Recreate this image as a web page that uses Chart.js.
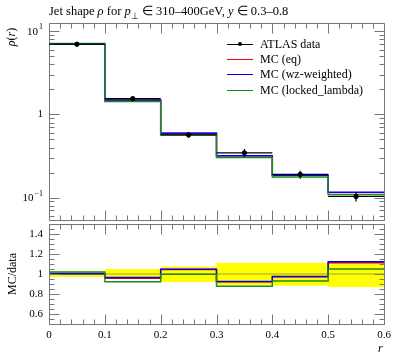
<!DOCTYPE html>
<html>
<head>
<meta charset="utf-8">
<script src="https://cdn.jsdelivr.net/npm/chart.js@4.4.0/dist/chart.umd.min.js"></script>
<style>
  body { margin: 0; background: #fff; }
  #wrap { position: relative; width: 397px; height: 358px; font-family: "Liberation Serif", serif; color: #000; }
  canvas { position: absolute; left: 0; }
  #mainChart { top: 0; }
  #ratioChart { top: 200px; }
  .txt { position: absolute; white-space: nowrap; font-size: 12px; line-height: 14px; }
  .rot { transform: translate(-50%, -50%) rotate(-90deg); }
  .leg { position: absolute; left: 227px; width: 160px; height: 14px; font-size: 12px; line-height: 14px; }
  .leg .ln { position: absolute; left: 0; top: 7px; width: 26px; height: 0; border-top: 1.2px solid #000; }
  .leg .dot { position: absolute; left: 11px; top: 5px; width: 4px; height: 4px; border-radius: 50%; background: #000; }
  .leg span { position: absolute; left: 33px; top: 0; }
</style>
</head>
<body>
<div id="wrap">
  <canvas id="mainChart" width="397" height="225"></canvas>
  <canvas id="ratioChart" width="397" height="158"></canvas>

  <div class="txt" style="left:49px; top:4px; font-size:12.5px;">Jet shape <i>ρ</i> for <i>p</i><sub style="font-size:9px">⊥</sub> ∈ 310–400GeV, <i>y</i> ∈ 0.3–0.8</div>
  <div class="txt rot" style="left:11px; top:37px;"><i>ρ</i>(<i>r</i>)</div>
  <div class="txt rot" style="left:12px; top:274px;">MC/data</div>
  <div class="txt" style="left:378px; top:341px;"><i>r</i></div>

  <div class="leg" style="top:37px;"><div class="ln"></div><div class="dot"></div><span>ATLAS data</span></div>
  <div class="leg" style="top:52px;"><div class="ln" style="border-color:#ff0000"></div><span>MC (eq)</span></div>
  <div class="leg" style="top:67px;"><div class="ln" style="border-color:#0000ff"></div><span>MC (wz-weighted)</span></div>
  <div class="leg" style="top:83px;"><div class="ln" style="border-color:#1a8c1a"></div><span>MC (locked_lambda)</span></div>
</div>

<script>
// bins in r
const binEdges = [0, 0.1, 0.2, 0.3, 0.4, 0.5, 0.6];

// main panel values, rho(r)
const dataVals = [7.0, 1.55, 0.567, 0.345, 0.19, 0.103];
const dataErrUp = [0.03, 0.05, 0.075, 0.11, 0.11, 0.115];   // relative
const dataErrDn = [0.03, 0.05, 0.08, 0.11, 0.115, 0.13];
const mcEq = [7.03, 1.485, 0.593, 0.318, 0.185, 0.1146];
const mcWz = [7.02, 1.495, 0.595, 0.319, 0.1853, 0.1157];
const mcLocked = [7.14, 1.43, 0.566, 0.303, 0.177, 0.108];

// ratio panel, MC / data
const ratioEq = [1.005, 0.958, 1.045, 0.922, 0.972, 1.113];
const ratioWz = [1.002, 0.965, 1.048, 0.925, 0.975, 1.123];
const ratioLocked = [1.02, 0.922, 0.998, 0.878, 0.93, 1.05];
const bandHi = [1.03, 1.05, 1.075, 1.11, 1.11, 1.115];
const bandLo = [0.97, 0.95, 0.92, 0.89, 0.885, 0.87];

// ticks
const xMajor = [0, 0.1, 0.2, 0.3, 0.4, 0.5, 0.6];
const logDecades = [0.01, 0.1, 1, 10];
const ratioMajor = [0.6, 0.8, 1, 1.2, 1.4];

const RED = '#ff0000', BLUE = '#0000ff', GREEN = '#1a8c1a';
const FONT = 'Liberation Serif';

// points at left edges plus the last right edge (drawn with stepped 'before')
function steps(vals) {
  const pts = vals.map((v, i) => ({ x: binEdges[i], y: v }));
  pts.push({ x: binEdges[binEdges.length - 1], y: vals[vals.length - 1] });
  return pts;
}

function isMajorX(v) {
  return xMajor.some(m => Math.abs(m - v) < 1e-9);
}

function setXTicks(scale) {
  const ticks = [];
  for (let i = 0; i <= 30; i++) {
    const v = Math.round(i * 0.02 * 100) / 100;
    ticks.push({ value: v, major: isMajorX(v) });
  }
  scale.ticks = ticks;
}

function setLogTicks(scale) {
  const ticks = [];
  logDecades.forEach(d => {
    for (let m = 1; m <= 9; m++) {
      const v = m * d;
      if (v >= scale.min && v <= scale.max) ticks.push({ value: v, major: m === 1 });
    }
  });
  scale.ticks = ticks;
}

function setRatioTicks(scale) {
  const ticks = [];
  for (let i = 10; i <= 30; i++) {
    const v = Math.round(i * 5) / 100;
    ticks.push({ value: v, major: ratioMajor.some(m => Math.abs(m - v) < 1e-9) });
  }
  scale.ticks = ticks;
}

function px(v) {
  return Math.round(v) + 0.5;
}

// frame with inward ticks on all four sides
function drawFrame(chart) {
  const { ctx, chartArea: a } = chart;
  const xs = chart.scales.x, ys = chart.scales.y;
  const L = px(a.left), R = px(a.right), T = px(a.top), B = px(a.bottom);
  ctx.save();
  ctx.strokeStyle = '#777';
  ctx.lineWidth = 1;
  ctx.beginPath();
  ctx.rect(L, T, R - L, B - T);
  xs.ticks.forEach(t => {
    const x = px(xs.getPixelForValue(t.value));
    const len = t.major ? 10 : 5;
    ctx.moveTo(x, B); ctx.lineTo(x, B - len);
    ctx.moveTo(x, T); ctx.lineTo(x, T + len);
  });
  ys.ticks.forEach(t => {
    const y = px(ys.getPixelForValue(t.value));
    const len = t.major ? 10 : 5;
    ctx.moveTo(L, y); ctx.lineTo(L + len, y);
    ctx.moveTo(R, y); ctx.lineTo(R - len, y);
  });
  ctx.stroke();
  ctx.restore();
}

const mainPlugin = {
  id: 'mainPlugin',
  afterDatasetsDraw(chart) {
    drawFrame(chart);
    const { ctx } = chart;
    const xs = chart.scales.x, ys = chart.scales.y;
    // data error bars
    ctx.save();
    ctx.strokeStyle = '#000';
    ctx.lineWidth = 1.2;
    ctx.beginPath();
    dataVals.forEach((v, i) => {
      const y = ys.getPixelForValue(v);
      const xc = xs.getPixelForValue((binEdges[i] + binEdges[i + 1]) / 2);
      ctx.moveTo(xs.getPixelForValue(binEdges[i]), y);
      ctx.lineTo(xs.getPixelForValue(binEdges[i + 1]), y);
      ctx.moveTo(xc, ys.getPixelForValue(v * (1 + dataErrUp[i])));
      ctx.lineTo(xc, ys.getPixelForValue(v * (1 - dataErrDn[i])));
    });
    ctx.stroke();
    // log labels
    ctx.fillStyle = '#000';
    ctx.textBaseline = 'middle';
    ctx.textAlign = 'right';
    const right = chart.chartArea.left - 6;
    logDecades.forEach(d => {
      if (d < ys.min || d > ys.max) return;
      const y = ys.getPixelForValue(d);
      if (d === 1) {
        ctx.font = '11px ' + FONT;
        ctx.fillText('1', right, y);
        return;
      }
      const exp = String(Math.round(Math.log10(d))).replace('-', '−');
      ctx.font = '8px ' + FONT;
      const ew = ctx.measureText(exp).width;
      ctx.fillText(exp, right, y - 4);
      ctx.font = '11px ' + FONT;
      ctx.fillText('10', right - ew - 1, y + 1);
    });
    ctx.restore();
  }
};

const ratioPlugin = {
  id: 'ratioPlugin',
  afterDatasetsDraw(chart) {
    drawFrame(chart);
  }
};

function stepLine(label, vals, color, order) {
  return {
    label: label,
    data: steps(vals),
    stepped: 'before',
    borderColor: color,
    borderWidth: 1.4,
    pointRadius: 0,
    fill: false,
    order: order
  };
}

const mainChart = new Chart(document.getElementById('mainChart'), {
  type: 'line',
  data: {
    datasets: [
      stepLine('MC (eq)', mcEq, RED, 3),
      stepLine('MC (wz-weighted)', mcWz, BLUE, 2),
      stepLine('MC (locked_lambda)', mcLocked, GREEN, 1),
      {
        type: 'scatter',
        label: 'ATLAS data',
        data: dataVals.map((v, i) => ({ x: (binEdges[i] + binEdges[i + 1]) / 2, y: v })),
        backgroundColor: '#000',
        borderColor: '#000',
        pointRadius: 2.2,
        order: 0
      }
    ]
  },
  options: {
    responsive: false,
    animation: false,
    layout: { padding: { top: 23, right: 13, bottom: 1, left: 0 } },
    plugins: { legend: { display: false }, tooltip: { enabled: false } },
    scales: {
      x: {
        type: 'linear', min: 0, max: 0.6,
        ticks: { display: false },
        grid: { display: false, drawTicks: false },
        border: { display: false },
        afterBuildTicks: setXTicks,
        afterFit(s) { s.height = 0; }
      },
      y: {
        type: 'logarithmic', min: 0.0537, max: 12.6,
        ticks: { display: false },
        grid: { display: false, drawTicks: false },
        border: { display: false },
        afterBuildTicks: setLogTicks,
        afterFit(s) { s.width = 49; }
      }
    }
  },
  plugins: [mainPlugin]
});

const ratioChart = new Chart(document.getElementById('ratioChart'), {
  type: 'line',
  data: {
    datasets: [
      {
        label: 'band hi', data: steps(bandHi), stepped: 'before',
        borderWidth: 0, pointRadius: 0, backgroundColor: '#ffff00',
        fill: 1, order: 10
      },
      {
        label: 'band lo', data: steps(bandLo), stepped: 'before',
        borderWidth: 0, pointRadius: 0, fill: false, order: 11
      },
      {
        label: 'unity', data: [{ x: 0, y: 1 }, { x: 0.6, y: 1 }],
        borderColor: '#a0a040', borderWidth: 1, pointRadius: 0, fill: false, order: 9
      },
      stepLine('MC (eq)', ratioEq, RED, 3),
      stepLine('MC (wz-weighted)', ratioWz, BLUE, 2),
      stepLine('MC (locked_lambda)', ratioLocked, GREEN, 1)
    ]
  },
  options: {
    responsive: false,
    animation: false,
    layout: { padding: { top: 24, right: 13, bottom: 0, left: 0 } },
    plugins: { legend: { display: false }, tooltip: { enabled: false } },
    scales: {
      x: {
        type: 'linear', min: 0, max: 0.6,
        ticks: {
          autoSkip: false, maxRotation: 0, padding: 5, color: '#000',
          font: { family: FONT, size: 11 },
          callback: (v) => isMajorX(v) ? String(Math.round(v * 10) / 10) : ''
        },
        grid: { display: false, drawTicks: false },
        border: { display: false },
        afterBuildTicks: setXTicks,
        afterFit(s) { s.height = 34; }
      },
      y: {
        type: 'linear', min: 0.5, max: 1.5,
        ticks: {
          autoSkip: false, padding: 6, color: '#000',
          font: { family: FONT, size: 11 },
          callback: (v) => ratioMajor.some(m => Math.abs(m - v) < 1e-9) ? String(Math.round(v * 10) / 10) : ''
        },
        grid: { display: false, drawTicks: false },
        border: { display: false },
        afterBuildTicks: setRatioTicks,
        afterFit(s) { s.width = 49; }
      }
    }
  },
  plugins: [ratioPlugin]
});
</script>
</body>
</html>
